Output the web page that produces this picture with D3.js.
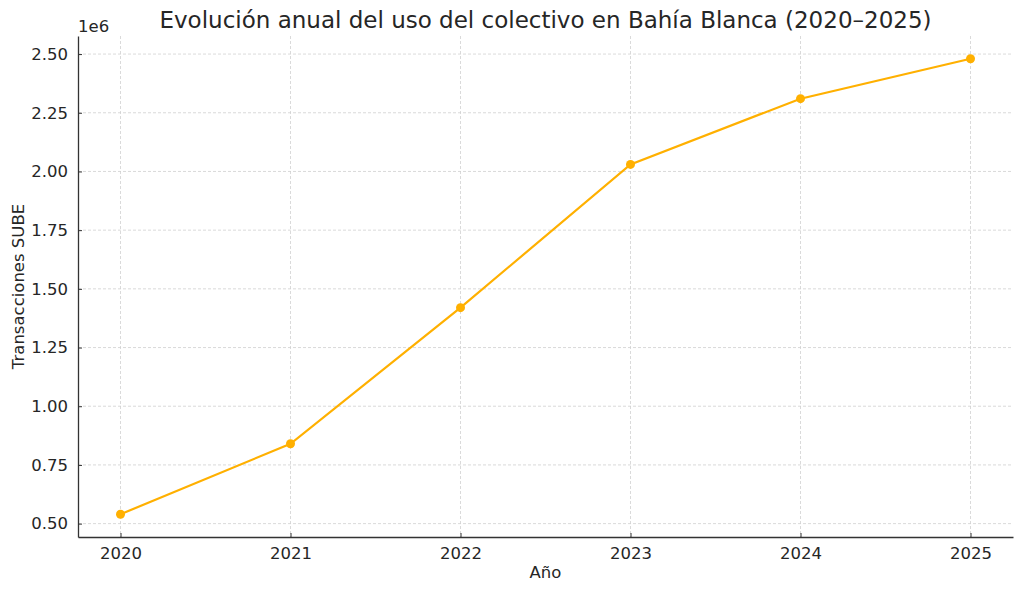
<!DOCTYPE html>
<html>
<head>
<meta charset="utf-8">
<script src="https://cdn.jsdelivr.net/npm/d3@7"></script>
<style>
  html, body { margin: 0; padding: 0; background: #fff; }
  text { font-family: "DejaVu Sans", sans-serif; fill: #262626; }
</style>
</head>
<body>
<div id="chart"></div>
<script>
// Data
const years = [2020, 2021, 2022, 2023, 2024, 2025];
const transactions = [540000, 840000, 1420000, 2030000, 2310000, 2480000];
const yTicks = [0.5e6, 0.75e6, 1.0e6, 1.25e6, 1.5e6, 1.75e6, 2.0e6, 2.25e6, 2.5e6];

const width = 1024, height = 592;
const margin = { top: 36, right: 11, bottom: 55, left: 78 };
const innerW = width - margin.left - margin.right;
const innerH = height - margin.top - margin.bottom;

const svg = d3.select('#chart').append('svg')
    .attr('width', width)
    .attr('height', height);

const g = svg.append('g')
    .attr('transform', `translate(${margin.left},${margin.top})`);

// matplotlib-style 5% margins
const xPad = (d3.max(years) - d3.min(years)) * 0.05;
const x = d3.scaleLinear()
    .domain([d3.min(years) - xPad, d3.max(years) + xPad])
    .range([0, innerW]);

const yPad = (d3.max(transactions) - d3.min(transactions)) * 0.05;
const y = d3.scaleLinear()
    .domain([d3.min(transactions) - yPad, d3.max(transactions) + yPad])
    .range([innerH, 0]);

// Grid
g.append('g').selectAll('line')
    .data(years)
    .join('line')
    .attr('x1', d => x(d)).attr('x2', d => x(d))
    .attr('y1', 0).attr('y2', innerH)
    .attr('stroke', '#d0d0d0')
    .attr('stroke-width', 0.8)
    .attr('stroke-dasharray', '3,2');

g.append('g').selectAll('line')
    .data(yTicks)
    .join('line')
    .attr('x1', 0).attr('x2', innerW)
    .attr('y1', d => y(d)).attr('y2', d => y(d))
    .attr('stroke', '#d0d0d0')
    .attr('stroke-width', 0.8)
    .attr('stroke-dasharray', '3,2');

// Axes (inward ticks)
const xAxis = g.append('g')
    .attr('transform', `translate(0,${innerH})`)
    .call(d3.axisBottom(x).tickValues(years).tickFormat(d3.format('d'))
        .tickSizeInner(-4).tickSizeOuter(0).tickPadding(10));

const yAxis = g.append('g')
    .call(d3.axisLeft(y).tickValues(yTicks).tickFormat(d => (d / 1e6).toFixed(2))
        .tickSizeInner(-4).tickSizeOuter(0).tickPadding(10));

[xAxis, yAxis].forEach(ax => {
    ax.select('.domain').attr('stroke', '#333').attr('stroke-width', 1.3);
    ax.selectAll('.tick line').attr('stroke', '#333').attr('stroke-width', 1);
    ax.selectAll('.tick text')
        .attr('font-size', '16.5px')
        .attr('font-family', '"DejaVu Sans", sans-serif')
        .attr('fill', '#222');
});

// Line + markers
const line = d3.line()
    .x((d, i) => x(years[i]))
    .y(d => y(d));

g.append('path')
    .datum(transactions)
    .attr('fill', 'none')
    .attr('stroke', '#ffb000')
    .attr('stroke-width', 2.2)
    .attr('d', line);

g.append('g').selectAll('circle')
    .data(transactions)
    .join('circle')
    .attr('cx', (d, i) => x(years[i]))
    .attr('cy', d => y(d))
    .attr('r', 4.5)
    .attr('fill', '#ffb000');

// Offset label
g.append('text')
    .attr('x', 0)
    .attr('y', -4)
    .attr('font-size', '16.5px')
    .text('1e6');

// Title
svg.append('text')
    .attr('x', margin.left + innerW / 2)
    .attr('y', 28)
    .attr('text-anchor', 'middle')
    .attr('font-size', '23px')
    .attr('fill', '#404040')
    .text('Evolución anual del uso del colectivo en Bahía Blanca (2020–2025)');

// Axis labels
svg.append('text')
    .attr('x', margin.left + innerW / 2)
    .attr('y', 578)
    .attr('text-anchor', 'middle')
    .attr('font-size', '16.5px')
    .text('Año');

svg.append('text')
    .attr('transform', `translate(24,${margin.top + innerH / 2}) rotate(-90)`)
    .attr('text-anchor', 'middle')
    .attr('font-size', '16.5px')
    .text('Transacciones SUBE');
</script>
</body>
</html>
